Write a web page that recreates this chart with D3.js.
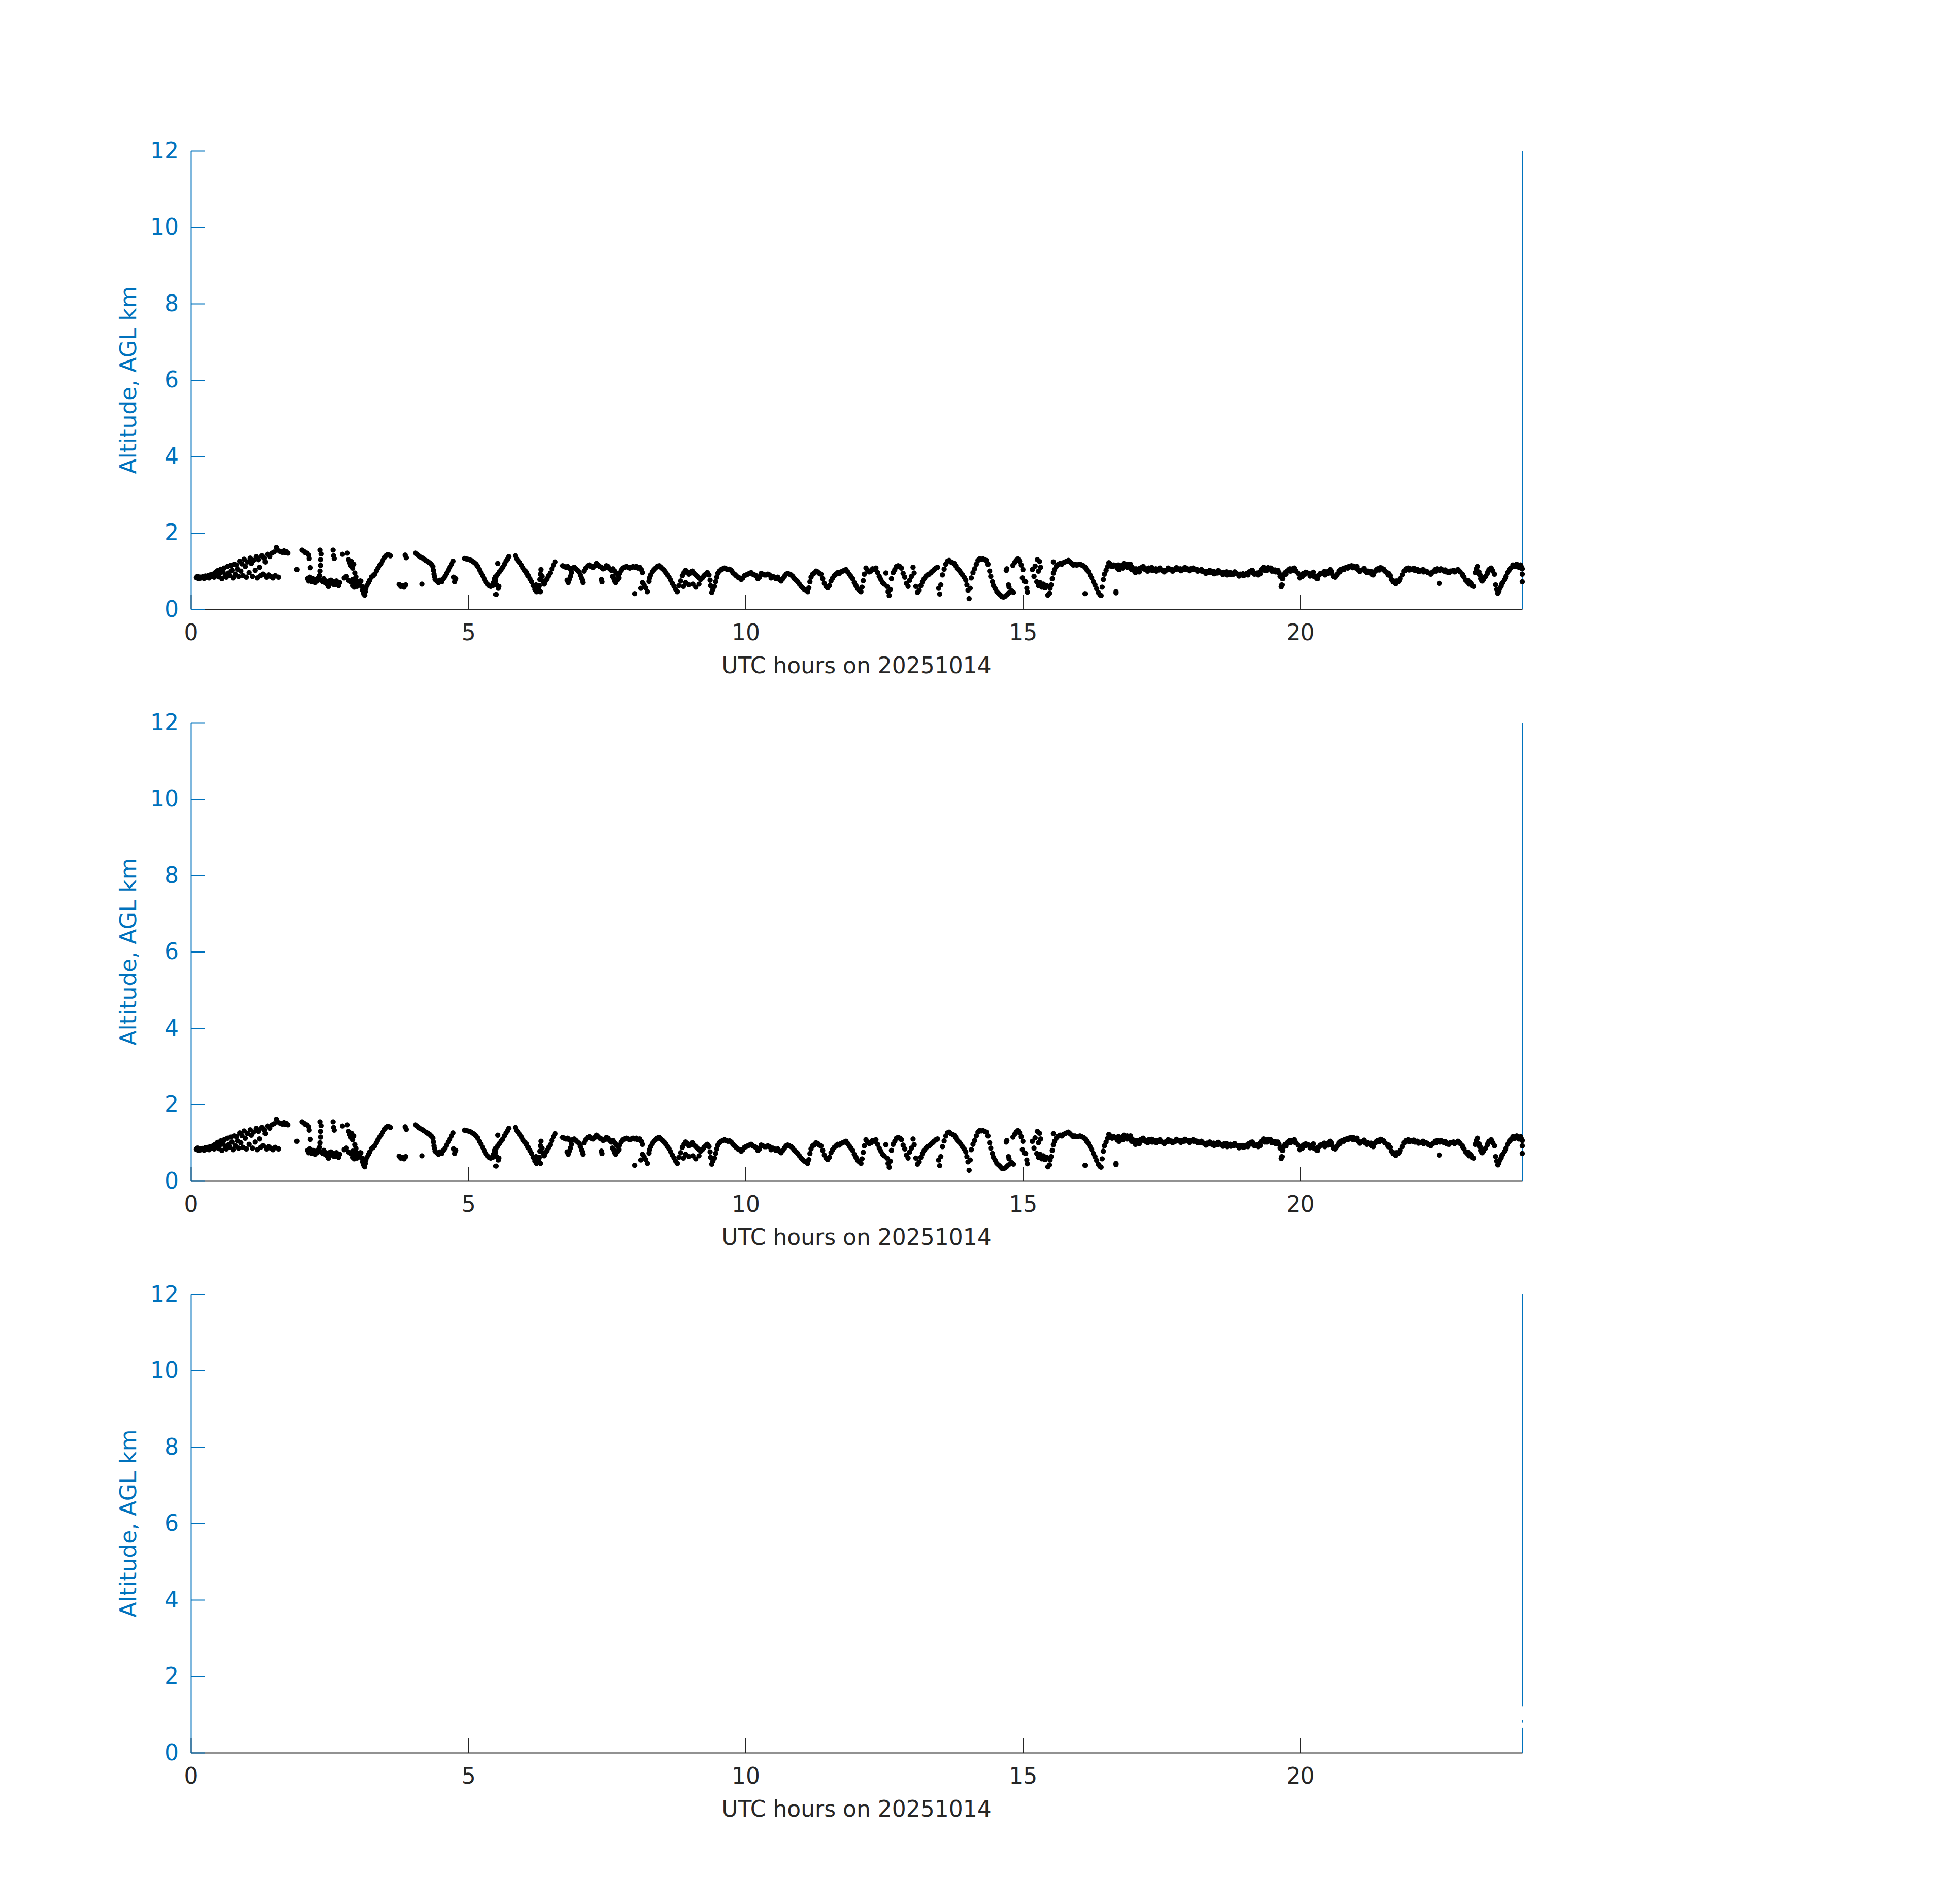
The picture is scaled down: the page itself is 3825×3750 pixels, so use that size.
<!DOCTYPE html>
<html>
<head>
<meta charset="utf-8">
<script src="https://cdn.jsdelivr.net/npm/d3@7"></script>
<style>
body { margin: 0; background: #fff; }
</style>
</head>
<body>
<div id="container"></div>
<script>
// [UTC hour, altitude km AGL]
const obs00 = [
[0.10,0.83],[0.12,0.86],[0.14,0.80],[0.17,0.84],[0.19,0.82],[0.21,0.85],[0.24,0.81],[0.26,0.87],[0.28,0.84],[0.31,0.88],
[0.33,0.82],[0.35,0.90],[0.37,0.86],[0.40,0.92],[0.42,0.84],[0.44,0.96],[0.46,0.88],[0.48,1.01],[0.50,0.85],[0.52,0.94],
[0.54,1.05],[0.56,0.80],[0.58,0.98],[0.60,1.08],[0.62,0.90],[0.64,0.84],[0.66,1.12],[0.68,0.95],[0.70,0.88],[0.72,1.15],
[0.74,1.02],[0.76,0.82],[0.78,1.18],[0.80,0.92],[0.82,1.16],[0.84,1.05],[0.86,0.86],[0.88,1.26],[0.90,1.00],[0.92,1.19],
[0.94,0.88],[0.96,1.31],[0.98,1.12],[1.00,0.84],[1.02,1.24],[1.05,0.96],[1.07,1.34],[1.09,1.20],[1.11,0.86],[1.13,1.28],
[1.16,1.02],[1.18,1.38],[1.20,0.82],[1.22,1.30],[1.24,1.10],[1.26,0.88],[1.28,1.40],[1.30,0.92],[1.32,1.34],[1.34,1.24],
[1.36,0.84],[1.38,1.44],[1.40,0.90],[1.42,1.38],[1.44,0.86],[1.46,1.47],[1.48,0.82],[1.50,1.50],[1.52,0.88],[1.54,1.62],
[1.56,1.55],[1.58,0.84],[1.60,1.52],[1.63,1.50],[1.65,1.49],[1.68,1.53],[1.70,1.48],[1.72,1.51],[1.75,1.47],[1.91,1.04],
[2.00,1.55],[2.03,1.52],[2.06,1.48],[2.09,1.47],[2.12,1.42],[2.13,1.33],[2.15,1.09],[2.10,0.80],[2.12,0.74],[2.14,0.84],
[2.16,0.78],[2.18,0.72],[2.20,0.80],[2.22,0.76],[2.24,0.70],[2.26,0.78],[2.28,0.74],[2.30,0.82],[2.32,0.88],[2.33,1.00],
[2.34,1.15],[2.34,1.30],[2.35,1.45],[2.33,1.55],[2.36,0.76],[2.38,0.72],[2.40,0.80],[2.42,0.70],[2.44,0.74],[2.46,0.66],
[2.48,0.60],[2.50,0.70],[2.52,0.76],[2.54,0.68],[2.56,0.72],[2.58,0.64],[2.60,0.70],[2.62,0.74],[2.64,0.66],[2.66,0.62],
[2.68,0.70],[2.56,1.55],[2.57,1.40],[2.58,1.33],[2.73,1.44],[2.82,1.47],[2.84,1.30],[2.86,1.22],[2.88,1.15],[2.90,1.25],
[2.92,1.08],[2.94,1.18],[2.96,0.95],[2.98,0.85],[2.76,0.82],[2.80,0.86],[2.84,0.76],[2.88,0.72],[2.92,0.78],[2.96,0.70],
[3.00,0.74],[3.04,0.66],[3.06,0.74],[3.08,0.60],[3.10,0.50],[3.12,0.42],[3.13,0.37],[3.14,0.46],[3.15,0.55],[3.00,0.60],
[2.95,0.58],[2.92,0.62],[3.17,0.62],[3.20,0.70],[3.22,0.76],[3.25,0.84],[3.28,0.88],[3.31,0.92],[3.34,1.00],[3.37,1.08],
[3.40,1.15],[3.43,1.20],[3.46,1.28],[3.49,1.35],[3.52,1.40],[3.55,1.43],[3.58,1.42],[3.60,1.40],[3.75,0.65],[3.78,0.60],
[3.81,0.62],[3.84,0.58],[3.87,0.64],[3.86,1.42],[3.88,1.35],[4.05,1.47],[4.08,1.44],[4.11,1.40],[4.14,1.37],[4.17,1.35],
[4.20,1.32],[4.24,1.28],[4.27,1.25],[4.30,1.22],[4.33,1.18],[4.36,1.12],[4.37,1.02],[4.38,0.92],[4.39,0.85],[4.17,0.66],
[4.40,0.78],[4.43,0.74],[4.46,0.70],[4.49,0.76],[4.52,0.72],[4.55,0.80],[4.58,0.86],[4.61,0.94],[4.64,1.02],[4.67,1.10],
[4.70,1.18],[4.73,1.26],[4.74,0.84],[4.76,0.72],[4.78,0.80]
];
const obs05 = [
[4.93,1.33],[4.96,1.32],[4.99,1.31],[5.02,1.30],[5.05,1.28],[5.08,1.25],[5.11,1.22],[5.14,1.18],[5.17,1.12],[5.20,1.04],
[5.23,0.96],[5.26,0.88],[5.29,0.80],[5.32,0.72],[5.35,0.66],[5.38,0.62],[5.41,0.60],[5.44,0.62],[5.46,0.70],[5.48,0.80],
[5.50,0.86],[5.53,0.92],[5.56,0.98],[5.59,1.04],[5.62,1.10],[5.65,1.18],[5.68,1.26],[5.71,1.32],[5.73,1.38],[5.50,0.39],
[5.51,0.64],[5.54,0.55],[5.55,0.60],[5.53,1.20],[5.49,0.75],[5.85,1.40],[5.87,1.33],[5.90,1.28],[5.93,1.22],[5.96,1.16],
[5.99,1.08],[6.02,1.02],[6.05,0.96],[6.08,0.88],[6.11,0.80],[6.14,0.72],[6.17,0.62],[6.20,0.52],[6.23,0.46],[6.26,0.48],
[6.28,0.62],[6.29,0.78],[6.30,0.92],[6.31,1.04],[6.33,0.86],[6.35,0.72],[6.37,0.66],[6.39,0.74],[6.42,0.80],[6.45,0.88],
[6.48,0.95],[6.51,1.06],[6.54,1.16],[6.57,1.24],[6.30,0.46],[6.27,0.56],[6.22,0.64],[6.70,1.14],[6.73,1.12],[6.76,1.10],
[6.79,1.12],[6.82,1.08],[6.85,1.04],[6.88,1.08],[6.91,1.10],[6.94,1.06],[6.97,1.02],[7.00,0.98],[7.02,0.90],[7.04,0.82],
[7.06,0.76],[7.07,0.70],[6.78,0.76],[6.80,0.70],[6.82,0.78],[6.84,0.86],[6.86,0.96],[7.09,1.00],[7.12,1.08],[7.16,1.14],
[7.19,1.16],[7.22,1.12],[7.25,1.10],[7.28,1.14],[7.31,1.20],[7.34,1.16],[7.37,1.12],[7.40,1.10],[7.43,1.06],[7.46,1.08],
[7.49,1.14],[7.52,1.12],[7.55,1.06],[7.58,1.02],[7.61,1.06],[7.64,1.00],[7.67,0.95],[7.70,0.90],[7.73,0.94],[7.76,1.02],
[7.79,1.08],[7.82,1.10],[7.85,1.12],[7.88,1.10],[7.91,1.08],[7.94,1.10],[7.97,1.12],[8.00,1.10],[8.03,1.12],[8.06,1.08],
[8.09,1.10],[8.12,1.04],[8.14,0.96],[7.40,0.78],[7.41,0.72],[7.60,0.86],[7.62,0.82],[7.64,0.74],[7.66,0.70],[7.70,0.78],
[7.72,0.82],[8.00,0.41],[8.11,0.55],[8.14,0.70],[8.17,0.64],[8.20,0.56],[8.23,0.46],[8.26,0.73],[8.27,0.82],[8.29,0.90],
[8.32,0.98],[8.35,1.04],[8.38,1.08],[8.41,1.12],[8.44,1.14],[8.47,1.10],[8.50,1.06],[8.53,1.02],[8.56,0.96],[8.59,0.90],
[8.62,0.84],[8.65,0.76],[8.68,0.68],[8.71,0.60],[8.74,0.52],[8.77,0.46],[8.80,0.62],[8.83,0.74],[8.86,0.88],[8.89,0.96],
[8.92,1.02],[8.95,0.98],[8.98,0.92],[9.01,0.96],[9.04,1.00],[9.07,0.94],[9.10,0.90],[9.13,0.86],[9.16,0.82],[9.19,0.78],
[9.22,0.82],[9.25,0.88],[9.28,0.92],[9.31,0.96],[9.34,0.90],[9.36,0.76],[9.37,0.62],[9.39,0.44],[9.41,0.52],[8.88,0.60],
[8.92,0.70],[8.98,0.64],[9.05,0.66],[9.10,0.58],[9.16,0.66]
];
const obs10 = [
[9.44,0.60],[9.46,0.72],[9.48,0.84],[9.50,0.94],[9.53,1.00],[9.56,1.04],[9.59,1.06],[9.62,1.08],[9.65,1.06],[9.68,1.04],
[9.71,1.05],[9.74,1.02],[9.77,0.96],[9.80,0.92],[9.83,0.88],[9.86,0.84],[9.89,0.82],[9.92,0.78],[9.95,0.82],[9.98,0.88],
[10.01,0.90],[10.04,0.92],[10.07,0.94],[10.10,0.96],[10.13,0.92],[10.16,0.90],[10.19,0.88],[10.22,0.80],[10.25,0.84],[10.28,0.94],
[10.31,0.92],[10.34,0.90],[10.37,0.90],[10.40,0.92],[10.43,0.90],[10.46,0.82],[10.49,0.86],[10.52,0.84],[10.55,0.80],[10.58,0.84],
[10.61,0.78],[10.64,0.74],[10.67,0.80],[10.70,0.86],[10.73,0.92],[10.76,0.94],[10.79,0.92],[10.82,0.90],[10.85,0.86],[10.88,0.80],
[10.91,0.76],[10.94,0.72],[10.97,0.66],[11.00,0.60],[11.03,0.56],[11.06,0.52],[11.09,0.50],[11.12,0.46],[11.14,0.56],[11.16,0.72],
[11.18,0.84],[11.21,0.92],[11.24,0.95],[11.27,1.00],[11.30,0.98],[11.33,0.94],[11.36,0.92],[11.39,0.80],[11.42,0.68],[11.45,0.60],
[11.48,0.56],[11.51,0.62],[11.54,0.74],[11.57,0.82],[11.60,0.88],[11.63,0.92],[11.66,0.96],[11.69,0.94],[11.72,0.98],[11.75,1.00],
[11.78,1.02],[11.81,1.04],[11.84,0.98],[11.87,0.92],[11.90,0.86],[11.93,0.80],[11.96,0.70],[11.99,0.62],[12.02,0.54],[12.05,0.50],
[12.08,0.46],[12.10,0.58],[12.12,0.75],[12.14,0.92],[12.17,1.08],[12.20,1.02],[12.23,0.98],[12.26,1.00],[12.29,1.06],[12.32,1.04],
[12.35,1.08],[12.38,0.96],[12.41,0.86],[12.44,0.78],[12.47,0.70],[12.50,0.66],[12.53,0.95],[12.55,0.60],[12.57,0.46],[12.59,0.36],
[12.61,0.52],[12.63,0.80],[12.66,0.96],[12.69,1.04],[12.72,1.12],[12.75,1.14],[12.78,1.12],[12.81,1.08],[12.84,0.94],[12.87,0.84],
[12.90,0.68],[12.93,0.60],[12.96,0.76],[12.99,0.86],[13.02,1.10],[13.04,0.95],[13.07,0.60],[13.10,0.44],[13.13,0.50],[13.16,0.62],
[13.19,0.72],[13.22,0.80],[13.25,0.86],[13.28,0.90],[13.31,0.92],[13.34,0.96],[13.37,1.00],[13.40,1.04],[13.43,1.08],[13.46,1.10],
[13.48,0.55],[13.50,0.40],[13.52,0.64],[13.55,0.90],[13.58,1.05],[13.61,1.18],[13.64,1.26],[13.67,1.28],[13.70,1.24],[13.73,1.22],
[13.76,1.20],[13.79,1.14],[13.82,1.06],[13.85,1.02],[13.88,0.96],[13.91,0.90],[13.94,0.84],[13.97,0.76],[13.99,0.64],[14.01,0.50],
[14.03,0.28],[14.05,0.55],[14.07,0.82],[14.10,0.96],[14.13,1.06],[14.16,1.18],[14.19,1.28],[14.22,1.32]
];
const obs15 = [
[14.25,1.31],[14.28,1.32],[14.31,1.30],[14.34,1.28],[14.37,1.18],[14.40,1.00],[14.42,0.86],[14.45,0.72],[14.47,0.62],[14.50,0.54],
[14.53,0.46],[14.56,0.42],[14.59,0.38],[14.62,0.33],[14.65,0.32],[14.68,0.34],[14.71,0.38],[14.74,0.42],[14.77,0.45],[14.80,0.48],
[14.83,0.44],[14.70,1.02],[14.71,1.06],[14.74,0.64],[14.75,0.58],[14.82,1.15],[14.85,1.22],[14.88,1.28],[14.91,1.32],[14.94,1.26],
[14.97,1.16],[15.00,1.04],[14.99,0.82],[15.02,0.74],[15.05,0.72],[15.07,0.55],[15.08,0.45],[15.17,1.04],[15.20,0.86],[15.22,1.13],
[15.26,1.30],[15.28,1.00],[15.30,1.25],[15.32,1.10],[15.25,0.72],[15.28,0.62],[15.31,0.70],[15.34,0.58],[15.37,0.66],[15.40,0.56],
[15.43,0.62],[15.45,0.37],[15.48,0.42],[15.49,0.55],[15.51,0.64],[15.53,0.80],[15.55,0.95],[15.57,1.04],[15.60,1.12],[15.63,1.17],
[15.55,1.24],[15.67,1.20],[15.70,1.18],[15.73,1.22],[15.76,1.24],[15.79,1.26],[15.82,1.28],[15.85,1.24],[15.88,1.20],[15.91,1.16],
[15.94,1.18],[15.97,1.16],[16.00,1.17],[16.03,1.18],[16.06,1.16],[16.09,1.14],[16.12,1.10],[16.15,1.04],[16.18,0.98],[16.21,0.90],
[16.24,0.82],[16.27,0.72],[16.30,0.64],[16.33,0.54],[16.36,0.44],[16.39,0.38],[16.41,0.36],[16.12,0.41],[16.43,0.58],[16.45,0.78],
[16.47,0.92],[16.50,1.02],[16.53,1.12],[16.55,1.22],[16.68,0.43],[16.68,0.46],[16.58,1.18],[16.61,1.12],[16.64,1.16],[16.67,1.14],
[16.70,1.08],[16.73,1.04],[16.76,1.10],[16.79,1.16],[16.82,1.20],[16.85,1.14],[16.88,1.10],[16.91,1.12],[16.94,1.18],[16.97,1.10],
[17.00,1.02],[17.03,0.96],[17.06,1.00],[17.09,1.06],[17.12,1.08],[17.15,1.10],[17.18,1.06],[17.21,1.04],[17.24,1.06],[17.27,1.08],
[17.30,1.04],[17.33,1.02],[17.36,1.04],[17.39,1.06],[17.42,1.05],[17.45,1.03],[17.48,1.04],[17.51,1.02],[17.54,1.00],[17.57,1.02],
[17.60,1.03],[17.63,1.04],[17.66,1.05],[17.69,1.04],[17.72,1.03],[17.75,1.04],[17.78,1.06],[17.81,1.05],[17.84,1.06],[17.87,1.05],
[17.90,1.04],[17.93,1.05],[17.96,1.06],[17.99,1.05],[18.02,1.06],[18.05,1.05],[18.08,1.04],[18.11,1.05],[18.14,1.04],[18.17,1.02],
[18.20,1.01],[18.23,1.00],[18.26,0.99],[18.29,0.98],[18.32,0.99],[18.35,0.97],[18.38,0.98],[18.41,0.96],[18.44,0.99],[18.47,0.97],
[18.50,0.95],[18.53,0.98],[18.56,0.96],[18.59,0.94],[18.62,0.97],[18.65,0.95],[18.68,0.90],[18.71,0.93],[18.74,0.96],[18.77,0.94],
[18.80,0.92],[18.83,0.95],[18.86,0.93],[18.89,0.90],[18.92,0.92],[18.95,0.90],[18.98,0.88],[19.01,0.90]
];
const obs19 = [
[19.04,0.94],[19.08,0.98],[19.11,1.00],[19.14,0.96],[19.17,0.92],[19.20,0.94],[19.24,0.90],[19.27,0.98],[19.30,1.04],[19.34,1.10],
[19.37,1.06],[19.40,1.02],[19.44,1.06],[19.47,1.08],[19.50,1.04],[19.53,1.00],[19.56,0.98],[19.60,1.02],[19.62,0.96],[19.64,0.86],
[19.66,0.59],[19.67,0.64],[19.68,0.80],[19.70,0.90],[19.73,0.96],[19.76,1.00],[19.79,1.04],[19.82,1.00],[19.86,1.06],[19.89,1.08],
[19.92,1.00],[19.96,0.94],[19.99,0.82],[20.02,0.90],[20.06,0.94],[20.09,0.92],[20.12,0.96],[20.16,0.94],[20.19,0.90],[20.22,0.93],
[20.25,0.86],[20.28,0.84],[20.31,0.80],[20.34,0.90],[20.38,0.94],[20.41,0.96],[20.44,0.90],[20.48,0.98],[20.51,1.00],[20.54,1.04],
[20.57,0.94],[20.60,0.86],[20.63,0.84],[20.67,0.92],[20.70,1.00],[20.73,1.04],[20.77,1.06],[20.80,1.08],[20.84,1.10],[20.88,1.12],
[20.92,1.14],[20.96,1.13],[21.00,1.08],[21.04,1.04],[21.09,1.02],[21.13,1.04],[21.17,1.00],[21.22,1.00],[21.26,0.96],[21.29,0.92],
[21.32,0.90],[21.36,1.00],[21.40,1.06],[21.45,1.09],[21.48,1.06],[21.52,1.00],[21.56,0.96],[21.59,0.94],[21.62,0.88],[21.64,0.78],
[21.67,0.72],[21.70,0.70],[21.73,0.74],[21.77,0.72],[21.80,0.80],[21.84,0.90],[21.87,1.00],[21.91,1.06],[21.95,1.08],[21.99,1.06],
[22.03,1.04],[22.07,1.02],[22.11,1.04],[22.15,1.00],[22.19,1.02],[22.22,0.98],[22.26,1.00],[22.30,0.96],[22.35,0.92],[22.39,0.98],
[22.43,1.04],[22.47,1.06],[22.51,0.68],[22.52,1.02],[22.56,1.04],[22.60,1.00],[22.64,0.98],[22.68,0.96],[22.72,1.00],[22.76,1.02],
[22.80,1.00],[22.84,1.04],[22.88,0.98],[22.92,0.92],[22.95,0.84],[22.98,0.76],[23.01,0.72],[23.04,0.66],[23.07,0.70],[23.10,0.62],
[23.13,0.60],[23.16,0.96],[23.18,1.06],[23.20,1.12],[23.22,0.98],[23.24,0.90],[23.26,0.80],[23.28,0.74],[23.31,0.82],[23.34,0.86],
[23.37,0.94],[23.40,1.04],[23.44,1.08],[23.47,1.00],[23.50,0.92],[23.52,0.64],[23.54,0.52],[23.56,0.42],[23.58,0.48],[23.60,0.56],
[23.62,0.60],[23.65,0.70],[23.68,0.77],[23.71,0.86],[23.74,0.96],[23.77,1.02],[23.80,1.08],[23.84,1.16],[23.87,1.12],[23.90,1.18],
[23.94,1.10],[23.97,1.16],[24.00,1.06],[24.00,0.92],[24.00,0.72]
];
// upper and lower edge readings of the band after 16.7 h
const obsEdge = [
[16.72,1.16],[16.80,1.08],[16.88,1.18],[16.96,1.04],[17.04,1.06],[17.10,0.98],[17.17,1.12],[17.25,1.00],[17.32,1.09],[17.40,1.00],
[17.47,1.08],[17.55,0.98],[17.62,1.08],[17.70,1.00],[17.77,1.09],[17.85,1.01],[17.92,1.09],[18.00,1.01],[18.07,1.08],[18.15,1.00],
[18.22,1.04],[18.30,0.94],[18.37,1.02],[18.45,0.93],[18.52,1.01],[18.60,0.91],[18.67,0.98],[18.75,0.91],[18.82,0.98],[18.90,0.87],
[18.97,0.93],[19.06,0.90],[19.13,1.02],[19.22,0.95],[19.28,0.93],[19.36,1.02],[19.42,1.09],[19.49,1.00],[19.55,1.03],[19.74,0.92],
[19.81,1.06],[19.88,1.02],[20.04,0.86],[20.10,0.97],[20.18,0.87],[20.24,0.97],[20.30,0.86],[20.36,0.94],[20.43,0.99],[20.50,0.94],
[20.56,1.00],[20.65,0.88],[20.72,0.98],[20.79,1.04],[20.86,1.08],[20.94,1.09],[21.02,1.12],[21.07,0.99],[21.15,1.07],[21.20,0.96],
[21.28,0.99],[21.38,1.04],[21.43,1.03],[21.50,1.05],[21.58,0.90],[21.66,0.76],[21.72,0.67],[21.79,0.76],[21.90,1.02],[21.97,1.03],
[22.05,1.07],[22.13,0.99],[22.21,1.04],[22.28,0.99],[22.37,0.96],[22.45,1.00],[22.54,1.06],[22.62,1.03],[22.70,1.00],[22.78,0.98],
[22.86,1.01],[22.93,0.88],[23.03,0.75],[23.09,0.66],[23.30,0.78],[23.38,0.98],[23.45,1.04],[23.57,0.45],[23.63,0.66],[23.70,0.82],
[23.78,1.05],[23.85,1.12],[23.92,1.14],[23.98,1.12]
];

const xTicks = [0, 5, 10, 15, 20];
const yTicks = [0, 2, 4, 6, 8, 10, 12];
const xLabel = "UTC hours on 20251014";
const yLabel = "Altitude, AGL km";
// third panel draws the same points in white
const dotColors = ["#000000", "#000000", "#ffffff"];

const width = 3825;
const height = 3750;
const left = 376;
const right = 2998;
const panelTops = [297, 1423, 2549];
const panelH = 903;
const blue = "#0072bd";
const grey = "#262626";
const font = "DejaVu Sans";

const svg = d3.select("div#container")
    .append("svg")
    .attr("width", width)
    .attr("height", height)
    .style("background", "#fff");

svg.append("rect")
    .attr("width", width)
    .attr("height", height)
    .attr("fill", "#fff");

const points = obs00.concat(obs05, obs10, obs15, obs19, obsEdge);

const xScale = d3.scaleLinear().domain([0, 24]).range([left, right]);

panelTops.forEach(function(top, i) {
    const yScale = d3.scaleLinear().domain([0, 12]).range([top + panelH, top]);
    const g = svg.append("g");

    const xaxis = d3.axisBottom(xScale)
        .tickValues(xTicks)
        .tickSizeInner(-28)
        .tickSizeOuter(0)
        .tickPadding(30)
        .tickFormat(d3.format("d"));

    const gx = g.append("g")
        .attr("transform", "translate(0," + (top + panelH) + ")")
        .call(xaxis)
        .attr("color", grey)
        .attr("font-size", 44)
        .attr("font-family", font);
    gx.selectAll("path, line").attr("stroke-width", 2);

    g.append("text")
        .attr("x", (left + right) / 2)
        .attr("y", top + panelH + 126)
        .attr("text-anchor", "middle")
        .attr("font-family", font)
        .attr("font-size", 44)
        .attr("fill", grey)
        .text(xLabel);

    const yaxis = d3.axisLeft(yScale)
        .tickValues(yTicks)
        .tickSizeInner(-27)
        .tickSizeOuter(0)
        .tickPadding(24)
        .tickFormat(d3.format("d"));

    const gy = g.append("g")
        .attr("transform", "translate(" + left + ",0)")
        .call(yaxis)
        .attr("color", blue)
        .attr("font-size", 44)
        .attr("font-family", font);
    gy.selectAll("path, line").attr("stroke-width", 2);

    g.append("line")
        .attr("x1", right)
        .attr("x2", right)
        .attr("y1", top)
        .attr("y2", top + panelH)
        .attr("stroke", blue)
        .attr("stroke-width", 2);

    g.append("text")
        .attr("transform", "translate(268," + (top + panelH / 2) + ") rotate(-90)")
        .attr("text-anchor", "middle")
        .attr("font-family", font)
        .attr("font-size", 44)
        .attr("fill", blue)
        .text(yLabel);

    g.append("g")
        .selectAll("circle")
        .data(points)
        .enter()
        .append("circle")
        .attr("cx", function(d) { return xScale(d[0]); })
        .attr("cy", function(d) { return yScale(d[1]); })
        .attr("r", 5.2)
        .attr("fill", dotColors[i]);
});
</script>
</body>
</html>
